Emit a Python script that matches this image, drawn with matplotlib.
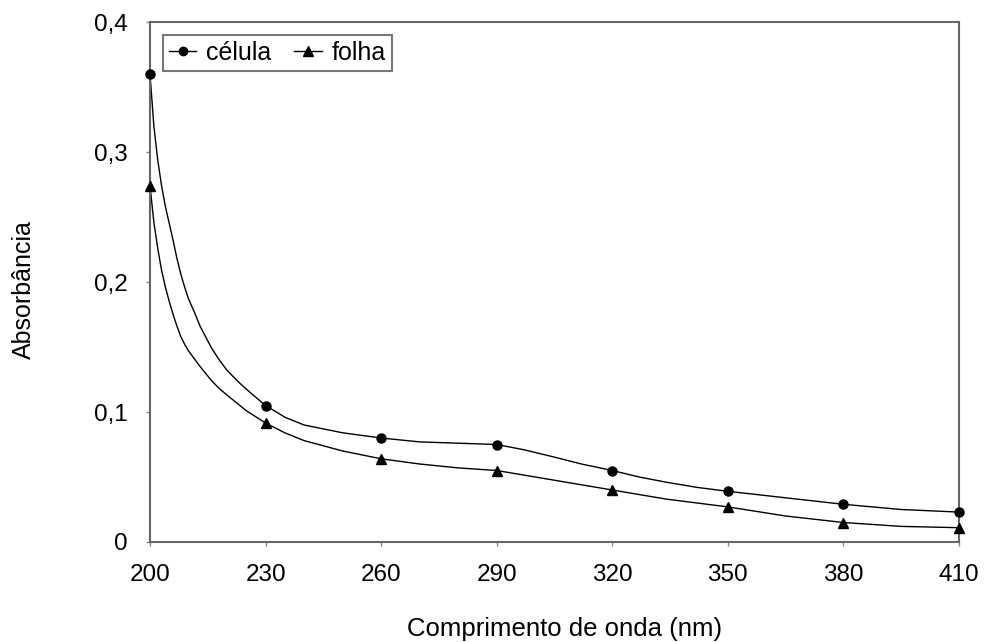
import matplotlib
matplotlib.use("Agg")
import matplotlib.pyplot as plt
import numpy as np

plt.rcParams["font.family"] = ["Liberation Sans", "DejaVu Sans"]

# marker positions (every 30 nm)
wl_marks = [200, 230, 260, 290, 320, 350, 380, 410]
celula_marks = [0.360, 0.105, 0.080, 0.075, 0.055, 0.039, 0.029, 0.023]
folha_marks = [0.274, 0.0915, 0.064, 0.055, 0.040, 0.027, 0.015, 0.011]

# traced spectra
wl_celula = [200, 201, 202, 203, 204, 205, 206, 207, 208, 209, 210, 211.5, 213,
             216, 218, 220, 223, 226, 230, 235, 240, 250, 260, 270, 280, 290,
             297, 304, 312, 320, 327, 334, 342, 350, 365, 380, 395, 410]
celula = [0.360, 0.320, 0.294, 0.274, 0.258, 0.245, 0.232, 0.218, 0.206, 0.196,
          0.187, 0.177, 0.166, 0.149, 0.140, 0.132, 0.123, 0.115, 0.105, 0.096,
          0.090, 0.084, 0.080, 0.077, 0.076, 0.075, 0.071, 0.066, 0.060, 0.055,
          0.050, 0.046, 0.042, 0.039, 0.034, 0.029, 0.025, 0.023]

wl_folha = [200, 201, 202, 203, 204, 205, 206, 207, 208, 209, 210, 211.5, 213,
            216, 218, 220, 225, 230, 235, 240, 250, 260, 270, 280, 290, 304,
            320, 334, 350, 365, 380, 395, 410]
folha = [0.274, 0.246, 0.226, 0.209, 0.196, 0.185, 0.175, 0.166, 0.158, 0.152,
         0.147, 0.141, 0.135, 0.124, 0.118, 0.113, 0.101, 0.0915, 0.084, 0.078,
         0.070, 0.064, 0.060, 0.057, 0.055, 0.048, 0.040, 0.033, 0.027, 0.020,
         0.015, 0.012, 0.011]

fig = plt.figure(figsize=(9.85, 6.42), dpi=100)
ax = fig.add_axes([150 / 985, 1 - 542 / 642, (959 - 150) / 985, (542 - 22) / 642])

# curves
ax.plot(wl_celula, celula, color="black", lw=1.0, zorder=2)
ax.plot(wl_folha, folha, color="black", lw=1.0, zorder=2)

# markers
ax.plot(wl_marks, celula_marks, "o", color="black", ms=6.5, clip_on=False, zorder=3)
ax.plot(wl_marks, folha_marks, "^", color="black", ms=7.5, clip_on=False, zorder=3)

# legend handles
h1, = ax.plot([], [], "-o", color="black", lw=1.0, ms=6)
h2, = ax.plot([], [], "-^", color="black", lw=1.0, ms=7)
leg = ax.legend([h1, h2], ["célula", "folha"], loc="upper left", ncol=2,
                fontsize=18, frameon=True, fancybox=False, handlelength=1.1,
                handletextpad=0.4, columnspacing=0.9, borderpad=0.25,
                borderaxespad=0.5)
leg.get_frame().set_edgecolor("#555555")
leg.get_frame().set_linewidth(1.5)

ax.set_xlim(200, 410)
ax.set_ylim(0, 0.4)
ax.set_xticks(wl_marks)
ax.set_yticks([0, 0.1, 0.2, 0.3, 0.4])
ax.set_yticklabels(["0", "0,1", "0,2", "0,3", "0,4"])

for s in ax.spines.values():
    s.set_color("#666666")
    s.set_linewidth(1.5)
ax.tick_params(direction="out", length=3, width=1.0, color="#888888",
               labelsize=17.5, pad=13)

fig.text(565 / 985, 1 - 636 / 642, "Comprimento de onda (nm)", fontsize=18.5,
         ha="center", va="baseline")
fig.text(24 / 985, 1 - 290 / 642, "Absorbância", fontsize=18, rotation=90,
         ha="center", va="center")

fig.savefig("out.png", dpi=100)
